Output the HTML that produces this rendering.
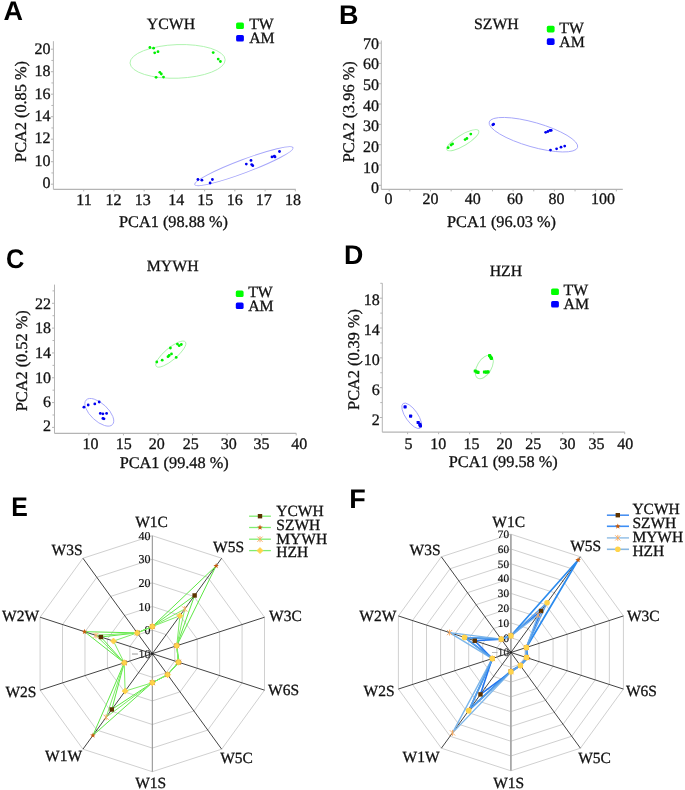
<!DOCTYPE html>
<html><head><meta charset="utf-8"><style>
html,body{margin:0;padding:0;background:#fff;}
svg{display:block;will-change:transform;text-rendering:geometricPrecision;}
</style></head><body>
<svg width="685" height="790" viewBox="0 0 685 790">
<rect width="685" height="790" fill="#fff"/>
<line x1='53.40' y1='41.20' x2='53.40' y2='189.40' stroke='#b4b4b4' stroke-width='1' />
<line x1='53.40' y1='189.40' x2='295.80' y2='189.40' stroke='#b4b4b4' stroke-width='1.2' />
<line x1='50.90' y1='49.20' x2='53.40' y2='49.20' stroke='#b4b4b4' stroke-width='1' />
<text x='50.40' y='53.70' font-size='16' text-anchor='end' fill='#111' stroke='#111' stroke-width='0.3' style="font-family:'Liberation Serif',serif" >20</text>
<line x1='50.90' y1='71.70' x2='53.40' y2='71.70' stroke='#b4b4b4' stroke-width='1' />
<text x='50.40' y='75.95' font-size='16' text-anchor='end' fill='#111' stroke='#111' stroke-width='0.3' style="font-family:'Liberation Serif',serif" >18</text>
<line x1='50.90' y1='94.20' x2='53.40' y2='94.20' stroke='#b4b4b4' stroke-width='1' />
<text x='50.40' y='98.50' font-size='16' text-anchor='end' fill='#111' stroke='#111' stroke-width='0.3' style="font-family:'Liberation Serif',serif" >16</text>
<line x1='50.90' y1='116.70' x2='53.40' y2='116.70' stroke='#b4b4b4' stroke-width='1' />
<text x='50.40' y='121.40' font-size='16' text-anchor='end' fill='#111' stroke='#111' stroke-width='0.3' style="font-family:'Liberation Serif',serif" >14</text>
<line x1='50.90' y1='139.20' x2='53.40' y2='139.20' stroke='#b4b4b4' stroke-width='1' />
<text x='50.40' y='143.40' font-size='16' text-anchor='end' fill='#111' stroke='#111' stroke-width='0.3' style="font-family:'Liberation Serif',serif" >12</text>
<line x1='50.90' y1='161.70' x2='53.40' y2='161.70' stroke='#b4b4b4' stroke-width='1' />
<text x='50.40' y='165.70' font-size='16' text-anchor='end' fill='#111' stroke='#111' stroke-width='0.3' style="font-family:'Liberation Serif',serif" >10</text>
<line x1='50.90' y1='184.20' x2='53.40' y2='184.20' stroke='#b4b4b4' stroke-width='1' />
<text x='50.40' y='187.80' font-size='16' text-anchor='end' fill='#111' stroke='#111' stroke-width='0.3' style="font-family:'Liberation Serif',serif" >0</text>
<line x1='51.40' y1='60.45' x2='53.40' y2='60.45' stroke='#b4b4b4' stroke-width='1' />
<line x1='51.40' y1='82.95' x2='53.40' y2='82.95' stroke='#b4b4b4' stroke-width='1' />
<line x1='51.40' y1='105.45' x2='53.40' y2='105.45' stroke='#b4b4b4' stroke-width='1' />
<line x1='51.40' y1='127.95' x2='53.40' y2='127.95' stroke='#b4b4b4' stroke-width='1' />
<line x1='51.40' y1='150.45' x2='53.40' y2='150.45' stroke='#b4b4b4' stroke-width='1' />
<line x1='51.40' y1='172.95' x2='53.40' y2='172.95' stroke='#b4b4b4' stroke-width='1' />
<line x1='83.70' y1='189.40' x2='83.70' y2='191.40' stroke='#b4b4b4' stroke-width='1' />
<text x='84.00' y='205.00' font-size='16' text-anchor='middle' fill='#111' stroke='#111' stroke-width='0.3' style="font-family:'Liberation Serif',serif" >11</text>
<line x1='113.93' y1='189.40' x2='113.93' y2='191.40' stroke='#b4b4b4' stroke-width='1' />
<text x='113.60' y='205.00' font-size='16' text-anchor='middle' fill='#111' stroke='#111' stroke-width='0.3' style="font-family:'Liberation Serif',serif" >12</text>
<line x1='144.16' y1='189.40' x2='144.16' y2='191.40' stroke='#b4b4b4' stroke-width='1' />
<text x='142.70' y='205.00' font-size='16' text-anchor='middle' fill='#111' stroke='#111' stroke-width='0.3' style="font-family:'Liberation Serif',serif" >13</text>
<line x1='174.39' y1='189.40' x2='174.39' y2='191.40' stroke='#b4b4b4' stroke-width='1' />
<text x='176.20' y='205.00' font-size='16' text-anchor='middle' fill='#111' stroke='#111' stroke-width='0.3' style="font-family:'Liberation Serif',serif" >14</text>
<line x1='204.62' y1='189.40' x2='204.62' y2='191.40' stroke='#b4b4b4' stroke-width='1' />
<text x='205.30' y='205.00' font-size='16' text-anchor='middle' fill='#111' stroke='#111' stroke-width='0.3' style="font-family:'Liberation Serif',serif" >15</text>
<line x1='234.85' y1='189.40' x2='234.85' y2='191.40' stroke='#b4b4b4' stroke-width='1' />
<text x='234.80' y='205.00' font-size='16' text-anchor='middle' fill='#111' stroke='#111' stroke-width='0.3' style="font-family:'Liberation Serif',serif" >16</text>
<line x1='265.08' y1='189.40' x2='265.08' y2='191.40' stroke='#b4b4b4' stroke-width='1' />
<text x='263.80' y='205.00' font-size='16' text-anchor='middle' fill='#111' stroke='#111' stroke-width='0.3' style="font-family:'Liberation Serif',serif" >17</text>
<line x1='295.31' y1='189.40' x2='295.31' y2='191.40' stroke='#b4b4b4' stroke-width='1' />
<text x='293.10' y='205.00' font-size='16' text-anchor='middle' fill='#111' stroke='#111' stroke-width='0.3' style="font-family:'Liberation Serif',serif" >18</text>
<text x='173.50' y='227.20' font-size='16.3' text-anchor='middle' fill='#111' stroke='#111' stroke-width='0.3' style="font-family:'Liberation Serif',serif" >PCA1 (98.88 %)</text>
<text x='0' y='0' font-size='16.3' text-anchor='middle' fill='#111' stroke='#111' stroke-width='0.3' style="font-family:'Liberation Serif',serif" transform='translate(26.30 111.50) rotate(-90)'>PCA2 (0.85 %)</text>
<text x='171.00' y='28.90' font-size='15.8' text-anchor='middle' fill='#111' stroke='#111' stroke-width='0.3' style="font-family:'Liberation Serif',serif" >YCWH</text>
<ellipse cx='177.60' cy='61.40' rx='47.60' ry='16.80' transform='rotate(-2.00 177.60 61.40)' fill='none' stroke='#a8f2a8' stroke-width='0.9'/>
<ellipse cx='243.90' cy='166.20' rx='52.50' ry='6.60' transform='rotate(-20.60 243.90 166.20)' fill='none' stroke='#a6a6fa' stroke-width='0.9'/>
<circle cx='149.90' cy='47.50' r='1.4' fill='#00f000'/>
<circle cx='153.60' cy='48.20' r='1.4' fill='#00f000'/>
<circle cx='154.70' cy='52.80' r='1.4' fill='#00f000'/>
<circle cx='158.00' cy='51.70' r='1.4' fill='#00f000'/>
<circle cx='213.20' cy='52.60' r='1.4' fill='#00f000'/>
<circle cx='218.20' cy='59.10' r='1.4' fill='#00f000'/>
<circle cx='220.40' cy='61.50' r='1.4' fill='#00f000'/>
<circle cx='159.80' cy='72.30' r='1.4' fill='#00f000'/>
<circle cx='161.30' cy='74.00' r='1.4' fill='#00f000'/>
<circle cx='156.10' cy='77.30' r='1.4' fill='#00f000'/>
<circle cx='163.50' cy='77.10' r='1.4' fill='#00f000'/>
<circle cx='197.90' cy='179.50' r='1.4' fill='#0000f0'/>
<circle cx='201.90' cy='180.20' r='1.4' fill='#0000f0'/>
<circle cx='210.10' cy='183.00' r='1.4' fill='#0000f0'/>
<circle cx='212.40' cy='179.50' r='1.4' fill='#0000f0'/>
<circle cx='246.30' cy='164.10' r='1.4' fill='#0000f0'/>
<circle cx='251.00' cy='160.40' r='1.4' fill='#0000f0'/>
<circle cx='251.70' cy='164.60' r='1.4' fill='#0000f0'/>
<circle cx='252.80' cy='165.70' r='1.4' fill='#0000f0'/>
<circle cx='272.00' cy='156.90' r='1.4' fill='#0000f0'/>
<circle cx='274.30' cy='156.20' r='1.4' fill='#0000f0'/>
<circle cx='275.00' cy='156.90' r='1.4' fill='#0000f0'/>
<circle cx='279.50' cy='151.50' r='1.4' fill='#0000f0'/>
<rect x='236.10' y='22.50' width='7.8' height='6.6' rx='1.6' fill='#00ff00'/>
<rect x='236.10' y='34.90' width='7.8' height='6.6' rx='1.6' fill='#0000ff'/>
<text x='249.20' y='29.30' font-size='15.8' text-anchor='start' fill='#111' stroke='#111' stroke-width='0.3' style="font-family:'Liberation Serif',serif" >TW</text>
<text x='249.20' y='43.30' font-size='15.8' text-anchor='start' fill='#111' stroke='#111' stroke-width='0.3' style="font-family:'Liberation Serif',serif" >AM</text>
<line x1='381.30' y1='40.50' x2='381.30' y2='189.40' stroke='#b4b4b4' stroke-width='1' />
<line x1='381.30' y1='189.40' x2='622.80' y2='189.40' stroke='#b4b4b4' stroke-width='1.2' />
<line x1='378.80' y1='185.30' x2='381.30' y2='185.30' stroke='#b4b4b4' stroke-width='1' />
<text x='378.90' y='193.20' font-size='16' text-anchor='end' fill='#111' stroke='#111' stroke-width='0.3' style="font-family:'Liberation Serif',serif" >0</text>
<line x1='378.80' y1='164.99' x2='381.30' y2='164.99' stroke='#b4b4b4' stroke-width='1' />
<text x='378.90' y='172.54' font-size='16' text-anchor='end' fill='#111' stroke='#111' stroke-width='0.3' style="font-family:'Liberation Serif',serif" >10</text>
<line x1='378.80' y1='144.68' x2='381.30' y2='144.68' stroke='#b4b4b4' stroke-width='1' />
<text x='378.90' y='151.88' font-size='16' text-anchor='end' fill='#111' stroke='#111' stroke-width='0.3' style="font-family:'Liberation Serif',serif" >20</text>
<line x1='378.80' y1='124.37' x2='381.30' y2='124.37' stroke='#b4b4b4' stroke-width='1' />
<text x='378.90' y='131.22' font-size='16' text-anchor='end' fill='#111' stroke='#111' stroke-width='0.3' style="font-family:'Liberation Serif',serif" >30</text>
<line x1='378.80' y1='104.06' x2='381.30' y2='104.06' stroke='#b4b4b4' stroke-width='1' />
<text x='378.90' y='110.56' font-size='16' text-anchor='end' fill='#111' stroke='#111' stroke-width='0.3' style="font-family:'Liberation Serif',serif" >40</text>
<line x1='378.80' y1='83.75' x2='381.30' y2='83.75' stroke='#b4b4b4' stroke-width='1' />
<text x='378.90' y='89.90' font-size='16' text-anchor='end' fill='#111' stroke='#111' stroke-width='0.3' style="font-family:'Liberation Serif',serif" >50</text>
<line x1='378.80' y1='63.44' x2='381.30' y2='63.44' stroke='#b4b4b4' stroke-width='1' />
<text x='378.90' y='69.24' font-size='16' text-anchor='end' fill='#111' stroke='#111' stroke-width='0.3' style="font-family:'Liberation Serif',serif" >60</text>
<line x1='378.80' y1='43.13' x2='381.30' y2='43.13' stroke='#b4b4b4' stroke-width='1' />
<text x='378.90' y='48.58' font-size='16' text-anchor='end' fill='#111' stroke='#111' stroke-width='0.3' style="font-family:'Liberation Serif',serif" >70</text>
<line x1='389.20' y1='189.40' x2='389.20' y2='191.40' stroke='#b4b4b4' stroke-width='1' />
<text x='388.50' y='204.00' font-size='16' text-anchor='middle' fill='#111' stroke='#111' stroke-width='0.3' style="font-family:'Liberation Serif',serif" >0</text>
<line x1='430.50' y1='189.40' x2='430.50' y2='191.40' stroke='#b4b4b4' stroke-width='1' />
<text x='430.50' y='204.00' font-size='16' text-anchor='middle' fill='#111' stroke='#111' stroke-width='0.3' style="font-family:'Liberation Serif',serif" >20</text>
<line x1='471.80' y1='189.40' x2='471.80' y2='191.40' stroke='#b4b4b4' stroke-width='1' />
<text x='472.80' y='204.00' font-size='16' text-anchor='middle' fill='#111' stroke='#111' stroke-width='0.3' style="font-family:'Liberation Serif',serif" >40</text>
<line x1='513.10' y1='189.40' x2='513.10' y2='191.40' stroke='#b4b4b4' stroke-width='1' />
<text x='515.00' y='204.00' font-size='16' text-anchor='middle' fill='#111' stroke='#111' stroke-width='0.3' style="font-family:'Liberation Serif',serif" >60</text>
<line x1='554.40' y1='189.40' x2='554.40' y2='191.40' stroke='#b4b4b4' stroke-width='1' />
<text x='556.50' y='204.00' font-size='16' text-anchor='middle' fill='#111' stroke='#111' stroke-width='0.3' style="font-family:'Liberation Serif',serif" >80</text>
<line x1='595.70' y1='189.40' x2='595.70' y2='191.40' stroke='#b4b4b4' stroke-width='1' />
<text x='602.90' y='204.00' font-size='16' text-anchor='middle' fill='#111' stroke='#111' stroke-width='0.3' style="font-family:'Liberation Serif',serif" >100</text>
<line x1='409.85' y1='189.40' x2='409.85' y2='191.40' stroke='#b4b4b4' stroke-width='1' />
<line x1='451.15' y1='189.40' x2='451.15' y2='191.40' stroke='#b4b4b4' stroke-width='1' />
<line x1='492.45' y1='189.40' x2='492.45' y2='191.40' stroke='#b4b4b4' stroke-width='1' />
<line x1='533.75' y1='189.40' x2='533.75' y2='191.40' stroke='#b4b4b4' stroke-width='1' />
<line x1='575.05' y1='189.40' x2='575.05' y2='191.40' stroke='#b4b4b4' stroke-width='1' />
<line x1='616.35' y1='189.40' x2='616.35' y2='191.40' stroke='#b4b4b4' stroke-width='1' />
<text x='501.50' y='227.20' font-size='16.3' text-anchor='middle' fill='#111' stroke='#111' stroke-width='0.3' style="font-family:'Liberation Serif',serif" >PCA1 (96.03 %)</text>
<text x='0' y='0' font-size='16.3' text-anchor='middle' fill='#111' stroke='#111' stroke-width='0.3' style="font-family:'Liberation Serif',serif" transform='translate(354.00 111.80) rotate(-90)'>PCA2 (3.96 %)</text>
<text x='496.40' y='28.90' font-size='15.8' text-anchor='middle' fill='#111' stroke='#111' stroke-width='0.3' style="font-family:'Liberation Serif',serif" >SZWH</text>
<ellipse cx='462.80' cy='140.20' rx='18.50' ry='5.40' transform='rotate(-31.00 462.80 140.20)' fill='none' stroke='#a8f2a8' stroke-width='0.9'/>
<ellipse cx='533.40' cy='134.70' rx='46.00' ry='12.20' transform='rotate(16.00 533.40 134.70)' fill='none' stroke='#a6a6fa' stroke-width='0.9'/>
<circle cx='448.20' cy='147.70' r='1.4' fill='#00f000'/>
<circle cx='451.10' cy='145.00' r='1.4' fill='#00f000'/>
<circle cx='452.60' cy='143.90' r='1.4' fill='#00f000'/>
<circle cx='465.10' cy='139.60' r='1.4' fill='#00f000'/>
<circle cx='466.90' cy='138.50' r='1.4' fill='#00f000'/>
<circle cx='470.80' cy='134.10' r='1.4' fill='#00f000'/>
<circle cx='493.60' cy='124.20' r='1.4' fill='#0000f0'/>
<circle cx='492.80' cy='124.80' r='1.4' fill='#0000f0'/>
<circle cx='545.70' cy='132.30' r='1.4' fill='#0000f0'/>
<circle cx='547.90' cy='131.50' r='1.4' fill='#0000f0'/>
<circle cx='550.00' cy='130.40' r='1.4' fill='#0000f0'/>
<circle cx='551.20' cy='130.40' r='1.4' fill='#0000f0'/>
<circle cx='550.50' cy='150.10' r='1.4' fill='#0000f0'/>
<circle cx='556.60' cy='148.80' r='1.4' fill='#0000f0'/>
<circle cx='561.00' cy='147.20' r='1.4' fill='#0000f0'/>
<circle cx='564.70' cy='146.10' r='1.4' fill='#0000f0'/>
<rect x='546.80' y='25.80' width='7.8' height='6.6' rx='1.6' fill='#00ff00'/>
<rect x='546.80' y='38.30' width='7.8' height='6.6' rx='1.6' fill='#0000ff'/>
<text x='559.30' y='32.80' font-size='15.8' text-anchor='start' fill='#111' stroke='#111' stroke-width='0.3' style="font-family:'Liberation Serif',serif" >TW</text>
<text x='559.30' y='47.00' font-size='15.8' text-anchor='start' fill='#111' stroke='#111' stroke-width='0.3' style="font-family:'Liberation Serif',serif" >AM</text>
<line x1='54.50' y1='284.60' x2='54.50' y2='433.40' stroke='#b4b4b4' stroke-width='1' />
<line x1='54.50' y1='433.40' x2='296.30' y2='433.40' stroke='#b4b4b4' stroke-width='1.2' />
<line x1='52.00' y1='427.40' x2='54.50' y2='427.40' stroke='#b4b4b4' stroke-width='1' />
<text x='51.00' y='430.80' font-size='16' text-anchor='end' fill='#111' stroke='#111' stroke-width='0.3' style="font-family:'Liberation Serif',serif" >2</text>
<line x1='52.00' y1='402.58' x2='54.50' y2='402.58' stroke='#b4b4b4' stroke-width='1' />
<text x='51.00' y='407.20' font-size='16' text-anchor='end' fill='#111' stroke='#111' stroke-width='0.3' style="font-family:'Liberation Serif',serif" >6</text>
<line x1='52.00' y1='377.76' x2='54.50' y2='377.76' stroke='#b4b4b4' stroke-width='1' />
<text x='51.00' y='382.50' font-size='16' text-anchor='end' fill='#111' stroke='#111' stroke-width='0.3' style="font-family:'Liberation Serif',serif" >10</text>
<line x1='52.00' y1='352.94' x2='54.50' y2='352.94' stroke='#b4b4b4' stroke-width='1' />
<text x='51.00' y='357.90' font-size='16' text-anchor='end' fill='#111' stroke='#111' stroke-width='0.3' style="font-family:'Liberation Serif',serif" >14</text>
<line x1='52.00' y1='328.12' x2='54.50' y2='328.12' stroke='#b4b4b4' stroke-width='1' />
<text x='51.00' y='333.40' font-size='16' text-anchor='end' fill='#111' stroke='#111' stroke-width='0.3' style="font-family:'Liberation Serif',serif" >18</text>
<line x1='52.00' y1='303.30' x2='54.50' y2='303.30' stroke='#b4b4b4' stroke-width='1' />
<text x='51.00' y='308.70' font-size='16' text-anchor='end' fill='#111' stroke='#111' stroke-width='0.3' style="font-family:'Liberation Serif',serif" >22</text>
<line x1='52.50' y1='414.99' x2='54.50' y2='414.99' stroke='#b4b4b4' stroke-width='1' />
<line x1='52.50' y1='390.17' x2='54.50' y2='390.17' stroke='#b4b4b4' stroke-width='1' />
<line x1='52.50' y1='365.35' x2='54.50' y2='365.35' stroke='#b4b4b4' stroke-width='1' />
<line x1='52.50' y1='340.53' x2='54.50' y2='340.53' stroke='#b4b4b4' stroke-width='1' />
<line x1='52.50' y1='315.71' x2='54.50' y2='315.71' stroke='#b4b4b4' stroke-width='1' />
<line x1='52.50' y1='290.89' x2='54.50' y2='290.89' stroke='#b4b4b4' stroke-width='1' />
<line x1='88.90' y1='433.40' x2='88.90' y2='435.40' stroke='#b4b4b4' stroke-width='1' />
<text x='90.50' y='449.00' font-size='16' text-anchor='middle' fill='#111' stroke='#111' stroke-width='0.3' style="font-family:'Liberation Serif',serif" >10</text>
<line x1='123.45' y1='433.40' x2='123.45' y2='435.40' stroke='#b4b4b4' stroke-width='1' />
<text x='123.80' y='449.00' font-size='16' text-anchor='middle' fill='#111' stroke='#111' stroke-width='0.3' style="font-family:'Liberation Serif',serif" >15</text>
<line x1='158.00' y1='433.40' x2='158.00' y2='435.40' stroke='#b4b4b4' stroke-width='1' />
<text x='156.80' y='449.00' font-size='16' text-anchor='middle' fill='#111' stroke='#111' stroke-width='0.3' style="font-family:'Liberation Serif',serif" >20</text>
<line x1='192.55' y1='433.40' x2='192.55' y2='435.40' stroke='#b4b4b4' stroke-width='1' />
<text x='190.70' y='449.00' font-size='16' text-anchor='middle' fill='#111' stroke='#111' stroke-width='0.3' style="font-family:'Liberation Serif',serif" >25</text>
<line x1='227.10' y1='433.40' x2='227.10' y2='435.40' stroke='#b4b4b4' stroke-width='1' />
<text x='228.70' y='449.00' font-size='16' text-anchor='middle' fill='#111' stroke='#111' stroke-width='0.3' style="font-family:'Liberation Serif',serif" >30</text>
<line x1='261.65' y1='433.40' x2='261.65' y2='435.40' stroke='#b4b4b4' stroke-width='1' />
<text x='261.60' y='449.00' font-size='16' text-anchor='middle' fill='#111' stroke='#111' stroke-width='0.3' style="font-family:'Liberation Serif',serif" >35</text>
<line x1='296.20' y1='433.40' x2='296.20' y2='435.40' stroke='#b4b4b4' stroke-width='1' />
<text x='299.20' y='449.00' font-size='16' text-anchor='middle' fill='#111' stroke='#111' stroke-width='0.3' style="font-family:'Liberation Serif',serif" >40</text>
<text x='174.20' y='468.30' font-size='16.3' text-anchor='middle' fill='#111' stroke='#111' stroke-width='0.3' style="font-family:'Liberation Serif',serif" >PCA1 (99.48 %)</text>
<text x='0' y='0' font-size='16.3' text-anchor='middle' fill='#111' stroke='#111' stroke-width='0.3' style="font-family:'Liberation Serif',serif" transform='translate(27.00 360.80) rotate(-90)'>PCA2 (0.52 %)</text>
<text x='172.70' y='271.20' font-size='15.8' text-anchor='middle' fill='#111' stroke='#111' stroke-width='0.3' style="font-family:'Liberation Serif',serif" >MYWH</text>
<ellipse cx='170.80' cy='354.10' rx='19.00' ry='6.00' transform='rotate(-40.00 170.80 354.10)' fill='none' stroke='#a8f2a8' stroke-width='0.9'/>
<ellipse cx='99.30' cy='412.30' rx='18.00' ry='8.70' transform='rotate(43.00 99.30 412.30)' fill='none' stroke='#a6a6fa' stroke-width='0.9'/>
<circle cx='156.80' cy='362.00' r='1.4' fill='#00f000'/>
<circle cx='162.20' cy='360.20' r='1.4' fill='#00f000'/>
<circle cx='168.00' cy='356.70' r='1.4' fill='#00f000'/>
<circle cx='169.20' cy='355.50' r='1.4' fill='#00f000'/>
<circle cx='171.50' cy='353.90' r='1.4' fill='#00f000'/>
<circle cx='170.40' cy='348.00' r='1.4' fill='#00f000'/>
<circle cx='176.20' cy='357.40' r='1.4' fill='#00f000'/>
<circle cx='177.40' cy='344.10' r='1.4' fill='#00f000'/>
<circle cx='179.20' cy='345.70' r='1.4' fill='#00f000'/>
<circle cx='181.30' cy='344.50' r='1.4' fill='#00f000'/>
<circle cx='83.90' cy='407.20' r='1.4' fill='#0000f0'/>
<circle cx='88.20' cy='405.00' r='1.4' fill='#0000f0'/>
<circle cx='94.80' cy='403.90' r='1.4' fill='#0000f0'/>
<circle cx='99.20' cy='402.00' r='1.4' fill='#0000f0'/>
<circle cx='100.30' cy='413.40' r='1.4' fill='#0000f0'/>
<circle cx='102.90' cy='413.80' r='1.4' fill='#0000f0'/>
<circle cx='106.60' cy='413.40' r='1.4' fill='#0000f0'/>
<circle cx='102.90' cy='418.40' r='1.4' fill='#0000f0'/>
<circle cx='104.00' cy='418.80' r='1.4' fill='#0000f0'/>
<rect x='235.80' y='290.40' width='7.8' height='6.6' rx='1.6' fill='#00ff00'/>
<rect x='235.80' y='302.50' width='7.8' height='6.6' rx='1.6' fill='#0000ff'/>
<text x='248.20' y='297.40' font-size='15.8' text-anchor='start' fill='#111' stroke='#111' stroke-width='0.3' style="font-family:'Liberation Serif',serif" >TW</text>
<text x='248.20' y='311.40' font-size='15.8' text-anchor='start' fill='#111' stroke='#111' stroke-width='0.3' style="font-family:'Liberation Serif',serif" >AM</text>
<line x1='382.30' y1='283.20' x2='382.30' y2='432.20' stroke='#b4b4b4' stroke-width='1' />
<line x1='382.30' y1='432.20' x2='624.80' y2='432.20' stroke='#b4b4b4' stroke-width='1.2' />
<line x1='379.80' y1='417.50' x2='382.30' y2='417.50' stroke='#b4b4b4' stroke-width='1' />
<text x='379.80' y='425.00' font-size='16' text-anchor='end' fill='#111' stroke='#111' stroke-width='0.3' style="font-family:'Liberation Serif',serif" >2</text>
<line x1='379.80' y1='387.68' x2='382.30' y2='387.68' stroke='#b4b4b4' stroke-width='1' />
<text x='379.80' y='394.50' font-size='16' text-anchor='end' fill='#111' stroke='#111' stroke-width='0.3' style="font-family:'Liberation Serif',serif" >6</text>
<line x1='379.80' y1='357.85' x2='382.30' y2='357.85' stroke='#b4b4b4' stroke-width='1' />
<text x='379.80' y='364.60' font-size='16' text-anchor='end' fill='#111' stroke='#111' stroke-width='0.3' style="font-family:'Liberation Serif',serif" >10</text>
<line x1='379.80' y1='328.03' x2='382.30' y2='328.03' stroke='#b4b4b4' stroke-width='1' />
<text x='379.80' y='334.80' font-size='16' text-anchor='end' fill='#111' stroke='#111' stroke-width='0.3' style="font-family:'Liberation Serif',serif" >14</text>
<line x1='379.80' y1='298.20' x2='382.30' y2='298.20' stroke='#b4b4b4' stroke-width='1' />
<text x='379.80' y='304.55' font-size='16' text-anchor='end' fill='#111' stroke='#111' stroke-width='0.3' style="font-family:'Liberation Serif',serif" >18</text>
<line x1='380.30' y1='402.59' x2='382.30' y2='402.59' stroke='#b4b4b4' stroke-width='1' />
<line x1='380.30' y1='372.76' x2='382.30' y2='372.76' stroke='#b4b4b4' stroke-width='1' />
<line x1='380.30' y1='342.94' x2='382.30' y2='342.94' stroke='#b4b4b4' stroke-width='1' />
<line x1='380.30' y1='313.12' x2='382.30' y2='313.12' stroke='#b4b4b4' stroke-width='1' />
<line x1='380.30' y1='283.29' x2='382.30' y2='283.29' stroke='#b4b4b4' stroke-width='1' />
<line x1='407.60' y1='432.20' x2='407.60' y2='434.20' stroke='#b4b4b4' stroke-width='1' />
<text x='408.60' y='449.00' font-size='16' text-anchor='middle' fill='#111' stroke='#111' stroke-width='0.3' style="font-family:'Liberation Serif',serif" >5</text>
<line x1='438.62' y1='432.20' x2='438.62' y2='434.20' stroke='#b4b4b4' stroke-width='1' />
<text x='438.30' y='449.00' font-size='16' text-anchor='middle' fill='#111' stroke='#111' stroke-width='0.3' style="font-family:'Liberation Serif',serif" >10</text>
<line x1='469.63' y1='432.20' x2='469.63' y2='434.20' stroke='#b4b4b4' stroke-width='1' />
<text x='471.50' y='449.00' font-size='16' text-anchor='middle' fill='#111' stroke='#111' stroke-width='0.3' style="font-family:'Liberation Serif',serif" >15</text>
<line x1='500.65' y1='432.20' x2='500.65' y2='434.20' stroke='#b4b4b4' stroke-width='1' />
<text x='504.60' y='449.00' font-size='16' text-anchor='middle' fill='#111' stroke='#111' stroke-width='0.3' style="font-family:'Liberation Serif',serif" >20</text>
<line x1='531.66' y1='432.20' x2='531.66' y2='434.20' stroke='#b4b4b4' stroke-width='1' />
<text x='533.20' y='449.00' font-size='16' text-anchor='middle' fill='#111' stroke='#111' stroke-width='0.3' style="font-family:'Liberation Serif',serif" >25</text>
<line x1='562.68' y1='432.20' x2='562.68' y2='434.20' stroke='#b4b4b4' stroke-width='1' />
<text x='567.50' y='449.00' font-size='16' text-anchor='middle' fill='#111' stroke='#111' stroke-width='0.3' style="font-family:'Liberation Serif',serif" >30</text>
<line x1='593.69' y1='432.20' x2='593.69' y2='434.20' stroke='#b4b4b4' stroke-width='1' />
<text x='596.60' y='449.00' font-size='16' text-anchor='middle' fill='#111' stroke='#111' stroke-width='0.3' style="font-family:'Liberation Serif',serif" >35</text>
<line x1='624.71' y1='432.20' x2='624.71' y2='434.20' stroke='#b4b4b4' stroke-width='1' />
<text x='625.20' y='449.00' font-size='16' text-anchor='middle' fill='#111' stroke='#111' stroke-width='0.3' style="font-family:'Liberation Serif',serif" >40</text>
<text x='503.30' y='466.90' font-size='16.3' text-anchor='middle' fill='#111' stroke='#111' stroke-width='0.3' style="font-family:'Liberation Serif',serif" >PCA1 (99.58 %)</text>
<text x='0' y='0' font-size='16.3' text-anchor='middle' fill='#111' stroke='#111' stroke-width='0.3' style="font-family:'Liberation Serif',serif" transform='translate(359.20 359.50) rotate(-90)'>PCA2 (0.39 %)</text>
<text x='505.90' y='275.70' font-size='15.8' text-anchor='middle' fill='#111' stroke='#111' stroke-width='0.3' style="font-family:'Liberation Serif',serif" >HZH</text>
<ellipse cx='484.30' cy='367.10' rx='12.90' ry='7.10' transform='rotate(-59.00 484.30 367.10)' fill='none' stroke='#a8f2a8' stroke-width='0.9'/>
<ellipse cx='411.70' cy='415.80' rx='15.00' ry='6.00' transform='rotate(55.00 411.70 415.80)' fill='none' stroke='#a6a6fa' stroke-width='0.9'/>
<rect x='488.00' y='354.00' width='3.20' height='3.20' rx='0.7' fill='#00f000'/>
<rect x='489.00' y='355.40' width='3.20' height='3.20' rx='0.7' fill='#00f000'/>
<rect x='489.80' y='356.80' width='3.20' height='3.20' rx='0.7' fill='#00f000'/>
<rect x='473.70' y='369.40' width='3.20' height='3.20' rx='0.7' fill='#00f000'/>
<rect x='475.20' y='370.40' width='3.20' height='3.20' rx='0.7' fill='#00f000'/>
<rect x='476.40' y='370.80' width='3.20' height='3.20' rx='0.7' fill='#00f000'/>
<rect x='482.90' y='370.40' width='3.20' height='3.20' rx='0.7' fill='#00f000'/>
<rect x='484.70' y='370.60' width='3.20' height='3.20' rx='0.7' fill='#00f000'/>
<rect x='486.40' y='370.20' width='3.20' height='3.20' rx='0.7' fill='#00f000'/>
<rect x='403.50' y='405.20' width='3.20' height='3.20' rx='0.7' fill='#0000f0'/>
<rect x='409.00' y='414.60' width='3.20' height='3.20' rx='0.7' fill='#0000f0'/>
<rect x='416.60' y='420.90' width='3.20' height='3.20' rx='0.7' fill='#0000f0'/>
<rect x='418.20' y='422.70' width='3.20' height='3.20' rx='0.7' fill='#0000f0'/>
<rect x='418.80' y='424.20' width='3.20' height='3.20' rx='0.7' fill='#0000f0'/>
<rect x='551.10' y='288.50' width='7.8' height='6.6' rx='1.6' fill='#00ff00'/>
<rect x='551.10' y='300.90' width='7.8' height='6.6' rx='1.6' fill='#0000ff'/>
<text x='563.50' y='295.10' font-size='15.8' text-anchor='start' fill='#111' stroke='#111' stroke-width='0.3' style="font-family:'Liberation Serif',serif" >TW</text>
<text x='563.50' y='309.10' font-size='15.8' text-anchor='start' fill='#111' stroke='#111' stroke-width='0.3' style="font-family:'Liberation Serif',serif" >AM</text>
<polygon points='152.30,630.10 166.17,634.61 174.74,646.41 174.74,660.99 166.17,672.79 152.30,677.30 138.43,672.79 129.86,660.99 129.86,646.41 138.43,634.61' fill='none' stroke='#d0d0d0' stroke-width='1.0'/>
<polygon points='152.30,606.50 180.04,615.51 197.19,639.11 197.19,668.29 180.04,691.89 152.30,700.90 124.56,691.89 107.41,668.29 107.41,639.11 124.56,615.51' fill='none' stroke='#d0d0d0' stroke-width='1.0'/>
<polygon points='152.30,582.90 193.92,596.42 219.63,631.82 219.63,675.58 193.92,710.98 152.30,724.50 110.68,710.98 84.97,675.58 84.97,631.82 110.68,596.42' fill='none' stroke='#d0d0d0' stroke-width='1.0'/>
<polygon points='152.30,559.30 207.79,577.33 242.08,624.53 242.08,682.87 207.79,730.07 152.30,748.10 96.81,730.07 62.52,682.87 62.52,624.53 96.81,577.33' fill='none' stroke='#d0d0d0' stroke-width='1.0'/>
<polygon points='152.30,535.70 221.66,558.24 264.52,617.24 264.52,690.16 221.66,749.16 152.30,771.70 82.94,749.16 40.08,690.16 40.08,617.24 82.94,558.24' fill='none' stroke='#d0d0d0' stroke-width='1.0'/>
<line x1='152.30' y1='653.70' x2='152.30' y2='535.70' stroke='#8a8a8a' stroke-width='1.0'/>
<line x1='152.30' y1='653.70' x2='221.66' y2='558.24' stroke='#444' stroke-width='1.0'/>
<line x1='152.30' y1='653.70' x2='264.52' y2='617.24' stroke='#444' stroke-width='1.0'/>
<line x1='152.30' y1='653.70' x2='264.52' y2='690.16' stroke='#444' stroke-width='1.0'/>
<line x1='152.30' y1='653.70' x2='221.66' y2='749.16' stroke='#444' stroke-width='1.0'/>
<line x1='152.30' y1='653.70' x2='152.30' y2='771.70' stroke='#8a8a8a' stroke-width='1.0'/>
<line x1='152.30' y1='653.70' x2='82.94' y2='749.16' stroke='#444' stroke-width='1.0'/>
<line x1='152.30' y1='653.70' x2='40.08' y2='690.16' stroke='#444' stroke-width='1.0'/>
<line x1='152.30' y1='653.70' x2='40.08' y2='617.24' stroke='#444' stroke-width='1.0'/>
<line x1='152.30' y1='653.70' x2='82.94' y2='558.24' stroke='#444' stroke-width='1.0'/>
<text x='150.40' y='657.78' font-size='12' text-anchor='end' fill='#333' stroke='#333' stroke-width='0.2' style="font-family:'Liberation Serif',serif" ><tspan fill='#9a9a9a' stroke='#9a9a9a'>−</tspan>10</text>
<text x='150.40' y='634.18' font-size='12' text-anchor='end' fill='#111' stroke='#111' stroke-width='0.2' style="font-family:'Liberation Serif',serif" >0</text>
<text x='150.40' y='610.58' font-size='12' text-anchor='end' fill='#111' stroke='#111' stroke-width='0.2' style="font-family:'Liberation Serif',serif" >10</text>
<text x='150.40' y='586.98' font-size='12' text-anchor='end' fill='#111' stroke='#111' stroke-width='0.2' style="font-family:'Liberation Serif',serif" >20</text>
<text x='150.40' y='563.38' font-size='12' text-anchor='end' fill='#111' stroke='#111' stroke-width='0.2' style="font-family:'Liberation Serif',serif" >30</text>
<text x='150.40' y='539.78' font-size='12' text-anchor='end' fill='#111' stroke='#111' stroke-width='0.2' style="font-family:'Liberation Serif',serif" >40</text>
<circle cx='152.30' cy='653.70' r='1.3' fill='#222'/>
<path d='M152.30 626.56L194.61 595.47L176.76 645.75L178.34 662.16L167.56 674.70L152.30 682.73L111.79 709.45L124.24 662.82L100.90 637.00L137.18 632.89Z' fill='none' stroke='#5ee845' stroke-width='1' stroke-linejoin='round'/>
<path d='M152.30 626.56L216.11 565.87L176.76 645.75L179.23 662.45L167.56 674.70L152.30 682.73L92.93 735.42L124.24 662.82L84.52 631.68L137.18 632.89Z' fill='none' stroke='#5ee845' stroke-width='1' stroke-linejoin='round'/>
<path d='M152.30 626.56L184.76 609.02L176.76 645.75L178.34 662.16L167.56 674.70L152.30 682.73L106.11 717.28L124.24 662.82L95.96 635.40L137.18 632.89Z' fill='none' stroke='#7eec66' stroke-width='1' stroke-linejoin='round'/>
<path d='M152.30 626.56L179.90 615.71L176.76 645.75L178.34 662.16L167.56 674.70L152.30 682.73L125.11 691.12L124.24 662.82L113.47 641.08L137.18 632.89Z' fill='none' stroke='#7eec66' stroke-width='1' stroke-linejoin='round'/>
<rect x='150.10' y='624.36' width='4.4' height='4.4' fill='#5c3200'/>
<rect x='192.41' y='593.27' width='4.4' height='4.4' fill='#5c3200'/>
<rect x='174.56' y='643.55' width='4.4' height='4.4' fill='#5c3200'/>
<rect x='176.14' y='659.96' width='4.4' height='4.4' fill='#5c3200'/>
<rect x='165.36' y='672.50' width='4.4' height='4.4' fill='#5c3200'/>
<rect x='150.10' y='680.53' width='4.4' height='4.4' fill='#5c3200'/>
<rect x='109.59' y='707.25' width='4.4' height='4.4' fill='#5c3200'/>
<rect x='122.04' y='660.62' width='4.4' height='4.4' fill='#5c3200'/>
<rect x='98.70' y='634.80' width='4.4' height='4.4' fill='#5c3200'/>
<rect x='134.98' y='630.69' width='4.4' height='4.4' fill='#5c3200'/>
<polygon points='152.30,623.66 153.01,625.59 155.06,625.66 153.44,626.93 154.00,628.91 152.30,627.76 150.60,628.91 151.16,626.93 149.54,625.66 151.59,625.59' fill='#c45a0c'/>
<polygon points='216.11,562.97 216.82,564.90 218.87,564.98 217.25,566.24 217.81,568.22 216.11,567.07 214.41,568.22 214.97,566.24 213.35,564.98 215.40,564.90' fill='#c45a0c'/>
<polygon points='176.76,642.85 177.47,644.78 179.52,644.85 177.91,646.12 178.47,648.10 176.76,646.95 175.06,648.10 175.62,646.12 174.01,644.85 176.06,644.78' fill='#c45a0c'/>
<polygon points='179.23,659.55 179.94,661.48 181.99,661.56 180.38,662.82 180.94,664.80 179.23,663.65 177.53,664.80 178.09,662.82 176.48,661.56 178.53,661.48' fill='#c45a0c'/>
<polygon points='167.56,671.80 168.26,673.73 170.32,673.81 168.70,675.07 169.26,677.05 167.56,675.90 165.85,677.05 166.42,675.07 164.80,673.81 166.85,673.73' fill='#c45a0c'/>
<polygon points='152.30,679.83 153.01,681.76 155.06,681.83 153.44,683.10 154.00,685.07 152.30,683.93 150.60,685.07 151.16,683.10 149.54,681.83 151.59,681.76' fill='#c45a0c'/>
<polygon points='92.93,732.52 93.63,734.45 95.69,734.52 94.07,735.79 94.63,737.76 92.93,736.62 91.22,737.76 91.79,735.79 90.17,734.52 92.22,734.45' fill='#c45a0c'/>
<polygon points='124.24,659.92 124.95,661.85 127.00,661.92 125.39,663.19 125.95,665.16 124.24,664.02 122.54,665.16 123.10,663.19 121.49,661.92 123.54,661.85' fill='#c45a0c'/>
<polygon points='84.52,628.78 85.22,630.70 87.27,630.78 85.66,632.05 86.22,634.02 84.52,632.88 82.81,634.02 83.38,632.05 81.76,630.78 83.81,630.70' fill='#c45a0c'/>
<polygon points='137.18,629.99 137.89,631.92 139.94,631.99 138.32,633.26 138.88,635.23 137.18,634.09 135.48,635.23 136.04,633.26 134.42,631.99 136.47,631.92' fill='#c45a0c'/>
<path d='M149.70 623.96L154.90 629.16M149.70 629.16L154.90 623.96M152.30 623.56L152.30 629.56' stroke='#f7a85c' stroke-width='0.9' fill='none'/>
<path d='M182.16 606.42L187.36 611.62M182.16 611.62L187.36 606.42M184.76 606.02L184.76 612.02' stroke='#f7a85c' stroke-width='0.9' fill='none'/>
<path d='M174.16 643.15L179.36 648.35M174.16 648.35L179.36 643.15M176.76 642.75L176.76 648.75' stroke='#f7a85c' stroke-width='0.9' fill='none'/>
<path d='M175.74 659.56L180.94 664.76M175.74 664.76L180.94 659.56M178.34 659.16L178.34 665.16' stroke='#f7a85c' stroke-width='0.9' fill='none'/>
<path d='M164.96 672.10L170.16 677.30M164.96 677.30L170.16 672.10M167.56 671.70L167.56 677.70' stroke='#f7a85c' stroke-width='0.9' fill='none'/>
<path d='M149.70 680.13L154.90 685.33M149.70 685.33L154.90 680.13M152.30 679.73L152.30 685.73' stroke='#f7a85c' stroke-width='0.9' fill='none'/>
<path d='M103.51 714.68L108.71 719.88M103.51 719.88L108.71 714.68M106.11 714.28L106.11 720.28' stroke='#f7a85c' stroke-width='0.9' fill='none'/>
<path d='M121.64 660.22L126.84 665.42M121.64 665.42L126.84 660.22M124.24 659.82L124.24 665.82' stroke='#f7a85c' stroke-width='0.9' fill='none'/>
<path d='M93.36 632.80L98.56 638.00M93.36 638.00L98.56 632.80M95.96 632.40L95.96 638.40' stroke='#f7a85c' stroke-width='0.9' fill='none'/>
<path d='M134.58 630.29L139.78 635.49M134.58 635.49L139.78 630.29M137.18 629.89L137.18 635.89' stroke='#f7a85c' stroke-width='0.9' fill='none'/>
<path d='M152.30 623.56L155.30 626.56L152.30 629.56L149.30 626.56Z' fill='#ffd24a' stroke='#ffd24a' stroke-width='0.8' stroke-linejoin='round'/>
<path d='M179.90 612.71L182.90 615.71L179.90 618.71L176.90 615.71Z' fill='#ffd24a' stroke='#ffd24a' stroke-width='0.8' stroke-linejoin='round'/>
<path d='M176.76 642.75L179.76 645.75L176.76 648.75L173.76 645.75Z' fill='#ffd24a' stroke='#ffd24a' stroke-width='0.8' stroke-linejoin='round'/>
<path d='M178.34 659.16L181.34 662.16L178.34 665.16L175.34 662.16Z' fill='#ffd24a' stroke='#ffd24a' stroke-width='0.8' stroke-linejoin='round'/>
<path d='M167.56 671.70L170.56 674.70L167.56 677.70L164.56 674.70Z' fill='#ffd24a' stroke='#ffd24a' stroke-width='0.8' stroke-linejoin='round'/>
<path d='M152.30 679.73L155.30 682.73L152.30 685.73L149.30 682.73Z' fill='#ffd24a' stroke='#ffd24a' stroke-width='0.8' stroke-linejoin='round'/>
<path d='M125.11 688.12L128.11 691.12L125.11 694.12L122.11 691.12Z' fill='#ffd24a' stroke='#ffd24a' stroke-width='0.8' stroke-linejoin='round'/>
<path d='M124.24 659.82L127.24 662.82L124.24 665.82L121.24 662.82Z' fill='#ffd24a' stroke='#ffd24a' stroke-width='0.8' stroke-linejoin='round'/>
<path d='M113.47 638.08L116.47 641.08L113.47 644.08L110.47 641.08Z' fill='#ffd24a' stroke='#ffd24a' stroke-width='0.8' stroke-linejoin='round'/>
<path d='M137.18 629.89L140.18 632.89L137.18 635.89L134.18 632.89Z' fill='#ffd24a' stroke='#ffd24a' stroke-width='0.8' stroke-linejoin='round'/>
<text x='135.20' y='527.20' font-size='15.5' text-anchor='start' fill='#111' stroke='#111' stroke-width='0.3' style="font-family:'Liberation Serif',serif" >W1C</text>
<text x='213.00' y='552.10' font-size='15.5' text-anchor='start' fill='#111' stroke='#111' stroke-width='0.3' style="font-family:'Liberation Serif',serif" >W5S</text>
<text x='269.00' y='621.40' font-size='15.5' text-anchor='start' fill='#111' stroke='#111' stroke-width='0.3' style="font-family:'Liberation Serif',serif" >W3C</text>
<text x='268.10' y='695.40' font-size='15.5' text-anchor='start' fill='#111' stroke='#111' stroke-width='0.3' style="font-family:'Liberation Serif',serif" >W6S</text>
<text x='220.20' y='763.40' font-size='15.5' text-anchor='start' fill='#111' stroke='#111' stroke-width='0.3' style="font-family:'Liberation Serif',serif" >W5C</text>
<text x='135.20' y='788.40' font-size='15.5' text-anchor='start' fill='#111' stroke='#111' stroke-width='0.3' style="font-family:'Liberation Serif',serif" >W1S</text>
<text x='45.10' y='761.30' font-size='15.5' text-anchor='start' fill='#111' stroke='#111' stroke-width='0.3' style="font-family:'Liberation Serif',serif" >W1W</text>
<text x='5.40' y='696.80' font-size='15.5' text-anchor='start' fill='#111' stroke='#111' stroke-width='0.3' style="font-family:'Liberation Serif',serif" >W2S</text>
<text x='2.00' y='621.00' font-size='15.5' text-anchor='start' fill='#111' stroke='#111' stroke-width='0.3' style="font-family:'Liberation Serif',serif" >W2W</text>
<text x='51.60' y='555.00' font-size='15.5' text-anchor='start' fill='#111' stroke='#111' stroke-width='0.3' style="font-family:'Liberation Serif',serif" >W3S</text>
<line x1='249.1' y1='516.2' x2='270.9' y2='516.2' stroke='#80ec70' stroke-width='1.3'/>
<rect x='257.80' y='514.00' width='4.4' height='4.4' fill='#5c3200'/>
<text x='276.30' y='516.40' font-size='15.5' text-anchor='start' fill='#111' stroke='#111' stroke-width='0.3' style="font-family:'Liberation Serif',serif" >YCWH</text>
<line x1='249.1' y1='527.5' x2='270.9' y2='527.5' stroke='#80ec70' stroke-width='1.3'/>
<polygon points='260.00,524.60 260.71,526.53 262.76,526.60 261.14,527.87 261.70,529.85 260.00,528.70 258.30,529.85 258.86,527.87 257.24,526.60 259.29,526.53' fill='#c45a0c'/>
<text x='276.30' y='530.20' font-size='15.5' text-anchor='start' fill='#111' stroke='#111' stroke-width='0.3' style="font-family:'Liberation Serif',serif" >SZWH</text>
<line x1='249.1' y1='539.2' x2='270.9' y2='539.2' stroke='#80ec70' stroke-width='1.3'/>
<path d='M257.40 536.60L262.60 541.80M257.40 541.80L262.60 536.60M260.00 536.20L260.00 542.20' stroke='#f7a85c' stroke-width='0.9' fill='none'/>
<text x='276.30' y='543.70' font-size='15.5' text-anchor='start' fill='#111' stroke='#111' stroke-width='0.3' style="font-family:'Liberation Serif',serif" >MYWH</text>
<line x1='249.1' y1='550.6' x2='270.9' y2='550.6' stroke='#80ec70' stroke-width='1.3'/>
<path d='M260.00 547.60L263.00 550.60L260.00 553.60L257.00 550.60Z' fill='#ffd24a' stroke='#ffd24a' stroke-width='0.8' stroke-linejoin='round'/>
<text x='276.30' y='557.30' font-size='15.5' text-anchor='start' fill='#111' stroke='#111' stroke-width='0.3' style="font-family:'Liberation Serif',serif" >HZH</text>
<polygon points='510.90,637.71 519.59,640.54 524.96,647.93 524.96,657.07 519.59,664.46 510.90,667.29 502.21,664.46 496.84,657.07 496.84,647.93 502.21,640.54' fill='none' stroke='#d0d0d0' stroke-width='1.0'/>
<polygon points='510.90,622.92 528.28,628.57 539.03,643.36 539.03,661.64 528.28,676.43 510.90,682.08 493.52,676.43 482.77,661.64 482.77,643.36 493.52,628.57' fill='none' stroke='#d0d0d0' stroke-width='1.0'/>
<polygon points='510.90,608.14 536.98,616.61 553.09,638.79 553.09,666.21 536.98,688.39 510.90,696.86 484.82,688.39 468.71,666.21 468.71,638.79 484.82,616.61' fill='none' stroke='#d0d0d0' stroke-width='1.0'/>
<polygon points='510.90,593.35 545.67,604.65 567.15,634.22 567.15,670.78 545.67,700.35 510.90,711.65 476.13,700.35 454.65,670.78 454.65,634.22 476.13,604.65' fill='none' stroke='#d0d0d0' stroke-width='1.0'/>
<polygon points='510.90,578.56 554.36,592.68 581.22,629.65 581.22,675.35 554.36,712.32 510.90,726.44 467.44,712.32 440.58,675.35 440.58,629.65 467.44,592.68' fill='none' stroke='#d0d0d0' stroke-width='1.0'/>
<polygon points='510.90,563.77 563.05,580.72 595.28,625.08 595.28,679.92 563.05,724.28 510.90,741.23 458.75,724.28 426.52,679.92 426.52,625.08 458.75,580.72' fill='none' stroke='#d0d0d0' stroke-width='1.0'/>
<polygon points='510.90,548.99 571.74,568.76 609.35,620.51 609.35,684.49 571.74,736.24 510.90,756.01 450.06,736.24 412.45,684.49 412.45,620.51 450.06,568.76' fill='none' stroke='#d0d0d0' stroke-width='1.0'/>
<polygon points='510.90,534.20 580.43,556.79 623.41,615.94 623.41,689.06 580.43,748.21 510.90,770.80 441.37,748.21 398.39,689.06 398.39,615.94 441.37,556.79' fill='none' stroke='#d0d0d0' stroke-width='1.0'/>
<line x1='510.90' y1='652.50' x2='510.90' y2='534.20' stroke='#a8a8a8' stroke-width='1.8'/>
<line x1='510.90' y1='652.50' x2='580.43' y2='556.79' stroke='#444' stroke-width='1.0'/>
<line x1='510.90' y1='652.50' x2='623.41' y2='615.94' stroke='#444' stroke-width='1.0'/>
<line x1='510.90' y1='652.50' x2='623.41' y2='689.06' stroke='#444' stroke-width='1.0'/>
<line x1='510.90' y1='652.50' x2='580.43' y2='748.21' stroke='#444' stroke-width='1.0'/>
<line x1='510.90' y1='652.50' x2='510.90' y2='770.80' stroke='#a8a8a8' stroke-width='1.8'/>
<line x1='510.90' y1='652.50' x2='441.37' y2='748.21' stroke='#444' stroke-width='1.0'/>
<line x1='510.90' y1='652.50' x2='398.39' y2='689.06' stroke='#444' stroke-width='1.0'/>
<line x1='510.90' y1='652.50' x2='398.39' y2='615.94' stroke='#444' stroke-width='1.0'/>
<line x1='510.90' y1='652.50' x2='441.37' y2='556.79' stroke='#444' stroke-width='1.0'/>
<text x='509.00' y='656.31' font-size='11.2' text-anchor='end' fill='#333' stroke='#333' stroke-width='0.2' style="font-family:'Liberation Serif',serif" ><tspan fill='#9a9a9a' stroke='#9a9a9a'>−</tspan>10</text>
<text x='509.00' y='641.52' font-size='11.2' text-anchor='end' fill='#111' stroke='#111' stroke-width='0.2' style="font-family:'Liberation Serif',serif" >0</text>
<text x='509.00' y='626.73' font-size='11.2' text-anchor='end' fill='#111' stroke='#111' stroke-width='0.2' style="font-family:'Liberation Serif',serif" >10</text>
<text x='509.00' y='611.95' font-size='11.2' text-anchor='end' fill='#111' stroke='#111' stroke-width='0.2' style="font-family:'Liberation Serif',serif" >20</text>
<text x='509.00' y='597.16' font-size='11.2' text-anchor='end' fill='#111' stroke='#111' stroke-width='0.2' style="font-family:'Liberation Serif',serif" >30</text>
<text x='509.00' y='582.37' font-size='11.2' text-anchor='end' fill='#111' stroke='#111' stroke-width='0.2' style="font-family:'Liberation Serif',serif" >40</text>
<text x='509.00' y='567.58' font-size='11.2' text-anchor='end' fill='#111' stroke='#111' stroke-width='0.2' style="font-family:'Liberation Serif',serif" >50</text>
<text x='509.00' y='552.80' font-size='11.2' text-anchor='end' fill='#111' stroke='#111' stroke-width='0.2' style="font-family:'Liberation Serif',serif" >60</text>
<text x='509.00' y='538.01' font-size='11.2' text-anchor='end' fill='#111' stroke='#111' stroke-width='0.2' style="font-family:'Liberation Serif',serif" >70</text>
<circle cx='510.90' cy='652.50' r='1.3' fill='#222'/>
<path d='M510.90 635.79L541.06 610.99L526.37 647.47L526.51 657.57L520.37 665.54L510.90 671.72L480.48 694.37L492.20 658.58L474.76 640.76L501.17 639.10Z' fill='none' stroke='#2274ee' stroke-width='1.6' stroke-linejoin='round'/>
<path d='M510.90 635.79L578.09 560.02L526.37 647.47L527.78 657.98L520.37 665.54L510.90 670.84L469.53 709.45L492.62 658.44L465.05 637.60L501.17 639.10Z' fill='none' stroke='#2a8aee' stroke-width='1.7' stroke-linejoin='round'/>
<path d='M510.90 635.79L538.11 615.05L526.37 647.47L526.51 657.57L520.37 665.54L510.90 671.72L452.49 732.89L492.20 658.58L449.58 632.58L501.17 639.10Z' fill='none' stroke='#7cb6ea' stroke-width='1.4' stroke-linejoin='round'/>
<path d='M510.90 635.79L547.06 602.73L526.37 647.47L526.51 657.57L520.37 665.54L510.90 671.72L468.66 710.64L492.20 658.58L464.49 637.42L501.17 639.10Z' fill='none' stroke='#5aa0e8' stroke-width='1.4' stroke-linejoin='round'/>
<rect x='508.70' y='633.59' width='4.4' height='4.4' fill='#5c3200'/>
<rect x='538.86' y='608.79' width='4.4' height='4.4' fill='#5c3200'/>
<rect x='524.17' y='645.27' width='4.4' height='4.4' fill='#5c3200'/>
<rect x='524.31' y='655.37' width='4.4' height='4.4' fill='#5c3200'/>
<rect x='518.17' y='663.34' width='4.4' height='4.4' fill='#5c3200'/>
<rect x='508.70' y='669.52' width='4.4' height='4.4' fill='#5c3200'/>
<rect x='478.28' y='692.17' width='4.4' height='4.4' fill='#5c3200'/>
<rect x='490.00' y='656.38' width='4.4' height='4.4' fill='#5c3200'/>
<rect x='472.56' y='638.56' width='4.4' height='4.4' fill='#5c3200'/>
<rect x='498.97' y='636.90' width='4.4' height='4.4' fill='#5c3200'/>
<polygon points='510.90,632.89 511.61,634.82 513.66,634.89 512.04,636.16 512.60,638.14 510.90,636.99 509.20,638.14 509.76,636.16 508.14,634.89 510.19,634.82' fill='#c45a0c'/>
<polygon points='578.09,557.12 578.79,559.05 580.85,559.13 579.23,560.39 579.79,562.37 578.09,561.22 576.38,562.37 576.95,560.39 575.33,559.13 577.38,559.05' fill='#c45a0c'/>
<polygon points='526.37,644.57 527.08,646.50 529.13,646.58 527.51,647.84 528.07,649.82 526.37,648.67 524.67,649.82 525.23,647.84 523.61,646.58 525.66,646.50' fill='#c45a0c'/>
<polygon points='527.78,655.08 528.48,657.01 530.53,657.09 528.92,658.35 529.48,660.33 527.78,659.18 526.07,660.33 526.64,658.35 525.02,657.09 527.07,657.01' fill='#c45a0c'/>
<polygon points='520.37,662.64 521.08,664.57 523.13,664.64 521.52,665.91 522.08,667.89 520.37,666.74 518.67,667.89 519.23,665.91 517.62,664.64 519.67,664.57' fill='#c45a0c'/>
<polygon points='510.90,667.94 511.61,669.87 513.66,669.94 512.04,671.21 512.60,673.18 510.90,672.04 509.20,673.18 509.76,671.21 508.14,669.94 510.19,669.87' fill='#c45a0c'/>
<polygon points='469.53,706.55 470.23,708.47 472.28,708.55 470.67,709.82 471.23,711.79 469.53,710.65 467.82,711.79 468.39,709.82 466.77,708.55 468.82,708.47' fill='#c45a0c'/>
<polygon points='492.62,655.54 493.32,657.47 495.38,657.54 493.76,658.81 494.32,660.79 492.62,659.64 490.91,660.79 491.48,658.81 489.86,657.54 491.91,657.47' fill='#c45a0c'/>
<polygon points='465.05,634.70 465.76,636.63 467.81,636.71 466.19,637.97 466.76,639.95 465.05,638.80 463.35,639.95 463.91,637.97 462.29,636.71 464.35,636.63' fill='#c45a0c'/>
<polygon points='501.17,636.20 501.87,638.13 503.92,638.20 502.31,639.47 502.87,641.45 501.17,640.30 499.46,641.45 500.02,639.47 498.41,638.20 500.46,638.13' fill='#c45a0c'/>
<path d='M508.30 633.19L513.50 638.39M508.30 638.39L513.50 633.19M510.90 632.79L510.90 638.79' stroke='#f7a85c' stroke-width='0.9' fill='none'/>
<path d='M535.51 612.45L540.71 617.65M535.51 617.65L540.71 612.45M538.11 612.05L538.11 618.05' stroke='#f7a85c' stroke-width='0.9' fill='none'/>
<path d='M523.77 644.87L528.97 650.07M523.77 650.07L528.97 644.87M526.37 644.47L526.37 650.47' stroke='#f7a85c' stroke-width='0.9' fill='none'/>
<path d='M523.91 654.97L529.11 660.17M523.91 660.17L529.11 654.97M526.51 654.57L526.51 660.57' stroke='#f7a85c' stroke-width='0.9' fill='none'/>
<path d='M517.77 662.94L522.97 668.14M517.77 668.14L522.97 662.94M520.37 662.54L520.37 668.54' stroke='#f7a85c' stroke-width='0.9' fill='none'/>
<path d='M508.30 669.12L513.50 674.32M508.30 674.32L513.50 669.12M510.90 668.72L510.90 674.72' stroke='#f7a85c' stroke-width='0.9' fill='none'/>
<path d='M449.89 730.29L455.09 735.49M449.89 735.49L455.09 730.29M452.49 729.89L452.49 735.89' stroke='#f7a85c' stroke-width='0.9' fill='none'/>
<path d='M489.60 655.98L494.80 661.18M489.60 661.18L494.80 655.98M492.20 655.58L492.20 661.58' stroke='#f7a85c' stroke-width='0.9' fill='none'/>
<path d='M446.98 629.98L452.18 635.18M446.98 635.18L452.18 629.98M449.58 629.58L449.58 635.58' stroke='#f7a85c' stroke-width='0.9' fill='none'/>
<path d='M498.57 636.50L503.77 641.70M498.57 641.70L503.77 636.50M501.17 636.10L501.17 642.10' stroke='#f7a85c' stroke-width='0.9' fill='none'/>
<circle cx='510.90' cy='635.79' r='2.8' fill='#ffd44c'/>
<circle cx='547.06' cy='602.73' r='2.8' fill='#ffd44c'/>
<circle cx='526.37' cy='647.47' r='2.8' fill='#ffd44c'/>
<circle cx='526.51' cy='657.57' r='2.8' fill='#ffd44c'/>
<circle cx='520.37' cy='665.54' r='2.8' fill='#ffd44c'/>
<circle cx='510.90' cy='671.72' r='2.8' fill='#ffd44c'/>
<circle cx='468.66' cy='710.64' r='2.8' fill='#ffd44c'/>
<circle cx='492.20' cy='658.58' r='2.8' fill='#ffd44c'/>
<circle cx='464.49' cy='637.42' r='2.8' fill='#ffd44c'/>
<circle cx='501.17' cy='639.10' r='2.8' fill='#ffd44c'/>
<text x='492.30' y='526.60' font-size='15.5' text-anchor='start' fill='#111' stroke='#111' stroke-width='0.3' style="font-family:'Liberation Serif',serif" >W1C</text>
<text x='570.20' y='551.10' font-size='15.5' text-anchor='start' fill='#111' stroke='#111' stroke-width='0.3' style="font-family:'Liberation Serif',serif" >W5S</text>
<text x='626.90' y='620.70' font-size='15.5' text-anchor='start' fill='#111' stroke='#111' stroke-width='0.3' style="font-family:'Liberation Serif',serif" >W3C</text>
<text x='625.90' y='695.90' font-size='15.5' text-anchor='start' fill='#111' stroke='#111' stroke-width='0.3' style="font-family:'Liberation Serif',serif" >W6S</text>
<text x='578.20' y='763.00' font-size='15.5' text-anchor='start' fill='#111' stroke='#111' stroke-width='0.3' style="font-family:'Liberation Serif',serif" >W5C</text>
<text x='493.20' y='788.30' font-size='15.5' text-anchor='start' fill='#111' stroke='#111' stroke-width='0.3' style="font-family:'Liberation Serif',serif" >W1S</text>
<text x='402.60' y='761.90' font-size='15.5' text-anchor='start' fill='#111' stroke='#111' stroke-width='0.3' style="font-family:'Liberation Serif',serif" >W1W</text>
<text x='363.60' y='695.80' font-size='15.5' text-anchor='start' fill='#111' stroke='#111' stroke-width='0.3' style="font-family:'Liberation Serif',serif" >W2S</text>
<text x='359.30' y='621.10' font-size='15.5' text-anchor='start' fill='#111' stroke='#111' stroke-width='0.3' style="font-family:'Liberation Serif',serif" >W2W</text>
<text x='409.60' y='555.20' font-size='15.5' text-anchor='start' fill='#111' stroke='#111' stroke-width='0.3' style="font-family:'Liberation Serif',serif" >W3S</text>
<line x1='606.9' y1='515.2' x2='629' y2='515.2' stroke='#4a90f0' stroke-width='1.6'/>
<rect x='615.60' y='513.00' width='4.4' height='4.4' fill='#5c3200'/>
<text x='632.40' y='514.30' font-size='15.5' text-anchor='start' fill='#111' stroke='#111' stroke-width='0.3' style="font-family:'Liberation Serif',serif" >YCWH</text>
<line x1='606.9' y1='526.3' x2='629' y2='526.3' stroke='#3d8ef5' stroke-width='1.6'/>
<polygon points='617.80,523.40 618.51,525.33 620.56,525.40 618.94,526.67 619.50,528.65 617.80,527.50 616.10,528.65 616.66,526.67 615.04,525.40 617.09,525.33' fill='#c45a0c'/>
<text x='632.40' y='528.30' font-size='15.5' text-anchor='start' fill='#111' stroke='#111' stroke-width='0.3' style="font-family:'Liberation Serif',serif" >SZWH</text>
<line x1='606.9' y1='537.9' x2='629' y2='537.9' stroke='#9cc4e8' stroke-width='1.6'/>
<path d='M615.20 535.30L620.40 540.50M615.20 540.50L620.40 535.30M617.80 534.90L617.80 540.90' stroke='#f7a85c' stroke-width='0.9' fill='none'/>
<text x='632.40' y='542.00' font-size='15.5' text-anchor='start' fill='#111' stroke='#111' stroke-width='0.3' style="font-family:'Liberation Serif',serif" >MYWH</text>
<line x1='606.9' y1='549.3' x2='629' y2='549.3' stroke='#8ab8e0' stroke-width='1.6'/>
<circle cx='617.80' cy='549.30' r='2.8' fill='#ffd44c'/>
<text x='632.40' y='555.50' font-size='15.5' text-anchor='start' fill='#111' stroke='#111' stroke-width='0.3' style="font-family:'Liberation Serif',serif" >HZH</text>
<text x='0' y='0' font-size='27' font-weight='bold' fill='#000' style="font-family:'Liberation Sans',sans-serif" transform='translate(3.4 19.9) scale(1.0 1)'>A</text>
<text x='0' y='0' font-size='27' font-weight='bold' fill='#000' style="font-family:'Liberation Sans',sans-serif" transform='translate(339.1 23.6) scale(1.0 1)'>B</text>
<text x='0' y='0' font-size='27' font-weight='bold' fill='#000' style="font-family:'Liberation Sans',sans-serif" transform='translate(6.0 267.5) scale(0.94 1)'>C</text>
<text x='0' y='0' font-size='27' font-weight='bold' fill='#000' style="font-family:'Liberation Sans',sans-serif" transform='translate(344.1 263.7) scale(0.99 1)'>D</text>
<text x='0' y='0' font-size='27' font-weight='bold' fill='#000' style="font-family:'Liberation Sans',sans-serif" transform='translate(11.2 515.9) scale(0.92 1)'>E</text>
<text x='0' y='0' font-size='27' font-weight='bold' fill='#000' style="font-family:'Liberation Sans',sans-serif" transform='translate(349.2 507.6) scale(1.0 1)'>F</text>
</svg></body></html>
